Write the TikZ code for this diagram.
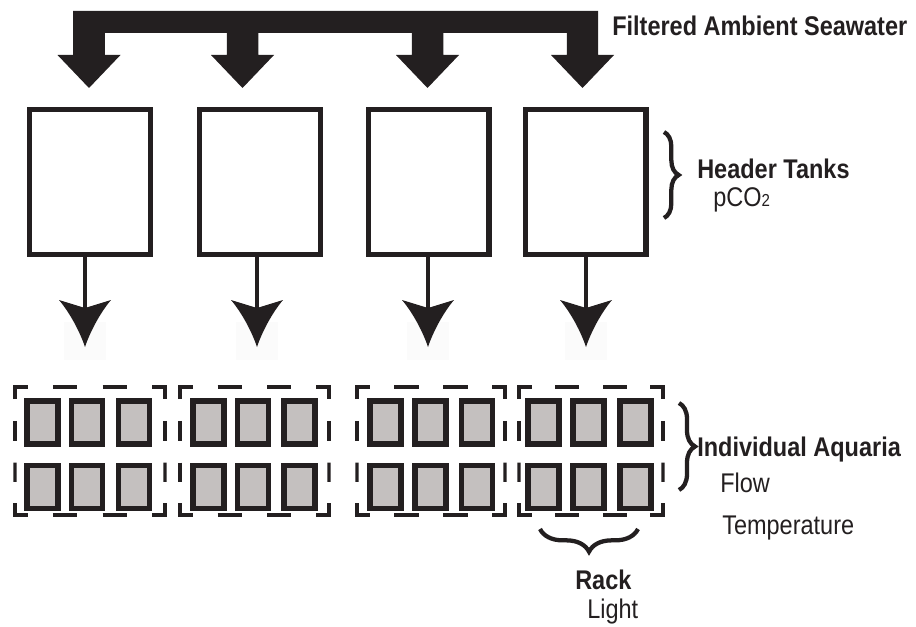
\documentclass[tikz,border=0pt]{standalone}
\usepackage{fontspec}
\setmainfont{Liberation Sans}[FakeStretch=0.87]
\usetikzlibrary{calc,decorations.pathreplacing,fit}
\definecolor{ink}{RGB}{35,31,32}
\definecolor{aqfill}{RGB}{196,192,191}
\definecolor{ghost}{RGB}{251,251,251}
\tikzset{
  tank/.style={draw=ink, line width=4.1pt, minimum width=90.4pt, minimum height=108.4pt, inner sep=0pt},
  aq/.style={draw=ink, fill=aqfill, line width=4.2pt, minimum width=23.25pt, minimum height=32.5pt, inner sep=0pt},
  rackframe/.style={inner sep=0pt, outer sep=0pt},
  dashline/.style={draw=ink, line width=2.5pt},
  conn/.style={draw=ink, line width=2.6pt},
  bracestyle/.style={draw=ink, line width=3.2pt, decorate},
  lbl/.style={font=\fontsize{20.25}{24}\selectfont, text=ink, anchor=base west, inner sep=0pt},
  lblb/.style={font=\fontsize{20.25}{24}\selectfont\bfseries, text=ink, anchor=base west, inner sep=0pt},
  headpic/.pic={\fill[ink] (0,0) -- (-26,-8) .. controls (-15,5) and (-5,24) .. (0,39) .. controls (5,24) and (15,5) .. (26,-8) -- cycle;}
}
\begin{document}
\begin{tikzpicture}[x=0.75pt, y=-0.75pt]
\useasboundingbox (0,0) rectangle (916,627);

% supply manifold with four wide arrows
\fill[ink] (73,11) -- (598,11) -- (598,55) -- (614,55) -- (582.5,88) -- (551,55) -- (566.75,55) -- (566.75,33)
  -- (443.25,33) -- (443.25,55) -- (459,55) -- (427.5,88) -- (396,55) -- (411.75,55) -- (411.75,33)
  -- (258.25,33) -- (258.25,55) -- (274,55) -- (242.5,88) -- (211,55) -- (226.75,55) -- (226.75,33)
  -- (104.75,33) -- (104.75,55) -- (120.5,55) -- (89,88) -- (57.5,55) -- (73,55) -- cycle;

% header tanks
\node[tank] (t1) at (90,182) {};
\node[tank] (t2) at (260,182) {};
\node[tank] (t3) at (428.5,182) {};
\node[tank] (t4) at (585.5,182) {};

% arrow heads (notch coordinates)
\coordinate (h1) at (85,308);
\coordinate (h2) at (257,308);
\coordinate (h3) at (428,308);
\coordinate (h4) at (586,308);
\foreach \hh in {h1,h2,h3,h4} {
  \fill[ghost] ($(\hh)+(-21,14)$) rectangle ($(\hh)+(21,52)$);
}
\foreach \tt/\hh in {t1/h1,t2/h2,t3/h3,t4/h4} {
  \draw[conn] (\tt.south -| \hh) -- (\hh);
  \pic at (\hh) {headpic};
}

% racks (dashed frames)
\node[rackframe, fit={(15,387) (165,515)}] (r1) {};
\node[rackframe, fit={(180,387) (329,515)}] (r2) {};
\node[rackframe, fit={(357,387) (505,515)}] (r3) {};
\node[rackframe, fit={(519,387) (663,515)}] (r4) {};
\foreach \rk in {r1,r2,r3,r4} {
  \draw[dashline, line join=miter] ($(\rk.north west)+(0,12)$) -- (\rk.north west) -- ($(\rk.north west)+(13,0)$);
  \draw[dashline, line join=miter] ($(\rk.north east)+(-13,0)$) -- (\rk.north east) -- ($(\rk.north east)+(0,12)$);
  \draw[dashline, line join=miter] ($(\rk.south west)+(0,-12)$) -- (\rk.south west) -- ($(\rk.south west)+(13,0)$);
  \draw[dashline, line join=miter] ($(\rk.south east)+(-13,0)$) -- (\rk.south east) -- ($(\rk.south east)+(0,-12)$);
  \draw[dashline] ($(\rk.north west)!0.253!(\rk.north east)$) -- ($(\rk.north west)!0.416!(\rk.north east)$);
  \draw[dashline] ($(\rk.north west)!0.584!(\rk.north east)$) -- ($(\rk.north west)!0.747!(\rk.north east)$);
  \draw[dashline] ($(\rk.south west)!0.253!(\rk.south east)$) -- ($(\rk.south west)!0.416!(\rk.south east)$);
  \draw[dashline] ($(\rk.south west)!0.584!(\rk.south east)$) -- ($(\rk.south west)!0.747!(\rk.south east)$);
  \draw[dashline] ($(\rk.north west)!0.265!(\rk.south west)$) -- ($(\rk.north west)!0.424!(\rk.south west)$);
  \draw[dashline] ($(\rk.north west)!0.59!(\rk.south west)$) -- ($(\rk.north west)!0.742!(\rk.south west)$);
  \draw[dashline] ($(\rk.north east)!0.265!(\rk.south east)$) -- ($(\rk.north east)!0.424!(\rk.south east)$);
  \draw[dashline] ($(\rk.north east)!0.59!(\rk.south east)$) -- ($(\rk.north east)!0.742!(\rk.south east)$);
}

% individual aquaria
\foreach \ax [count=\i] in {42.5,87,134,208.5,253,299.5,385.5,430.5,477,543.5,588.5,635.5} {
  \node[aq] (a\i-1) at (\ax,422.5) {};
  \node[aq] (a\i-2) at (\ax,487) {};
}

% braces
\draw[bracestyle, decoration={brace, amplitude=11pt}] (664,132) -- (664,218);
\draw[bracestyle, decoration={brace, amplitude=12pt}] (679,403) -- (679,490);
\draw[bracestyle, decoration={brace, amplitude=17pt}] (638,529) -- (540,529);

% labels
\node[lblb] (fas) at (612,36) {Filtered Ambient Seawater};
\node[lblb] (ht) at (697,179) {Header Tanks};
\node[lbl] (pco) at (713,207) {pCO{\fontsize{13}{13}\selectfont 2}};
\node[lblb] (ia) at (697,456) {Individual Aquaria};
\node[lbl] (fl) at (720,492) {Flow};
\node[lbl] (tp) at (722,534) {Temperature};
\node[lblb] (rkl) at (575,589) {Rack};
\node[lbl] (lt) at (587,618) {Light};
\end{tikzpicture}
\end{document}
